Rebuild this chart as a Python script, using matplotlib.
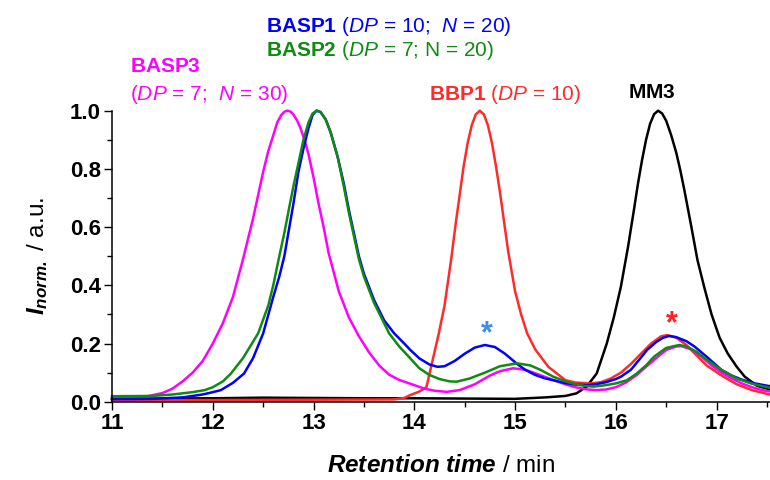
import matplotlib
matplotlib.use("Agg")
import matplotlib.pyplot as plt
from matplotlib.ticker import MultipleLocator

plt.rcParams["font.family"] = "Liberation Sans"
plt.rcParams["mathtext.fontset"] = "custom"
plt.rcParams["mathtext.rm"] = "Liberation Sans"
plt.rcParams["mathtext.it"] = "Liberation Sans:italic"
plt.rcParams["mathtext.bf"] = "Liberation Sans:bold"
plt.rcParams["mathtext.bfit"] = "Liberation Sans:italic:bold"

# ================= DATA =================
t_basp3 = [11.0, 11.3, 11.5, 11.6, 11.7, 11.8, 11.9, 12.0, 12.1, 12.2, 12.3, 12.4,
           12.45, 12.5, 12.55, 12.6, 12.64, 12.68, 12.71, 12.74, 12.77, 12.8, 12.84,
           12.87, 12.91, 12.95, 13.0, 13.05, 13.1, 13.15, 13.25, 13.35,
           13.45, 13.55, 13.65, 13.75, 13.85, 13.96, 14.1, 14.2, 14.32, 14.45, 14.6,
           14.75, 14.85, 14.98, 15.1, 15.2, 15.3, 15.4, 15.5, 15.6, 15.7, 15.8, 15.9,
           16.0, 16.1, 16.2, 16.3, 16.4, 16.5, 16.6, 16.65, 16.75, 16.85, 16.95,
           17.05, 17.15, 17.25, 17.35, 17.45, 17.55]
i_basp3 = [0.012, 0.015, 0.03, 0.045, 0.07, 0.10, 0.14, 0.20, 0.27, 0.36, 0.49, 0.63,
           0.71, 0.79, 0.86, 0.915, 0.96, 0.985, 0.996, 1.0, 0.997, 0.987, 0.964,
           0.94, 0.90, 0.85, 0.77, 0.68, 0.60, 0.51, 0.38, 0.29,
           0.225, 0.17, 0.125, 0.093, 0.075, 0.062, 0.045, 0.038, 0.034, 0.04, 0.06,
           0.09, 0.105, 0.115, 0.11, 0.098, 0.085, 0.072, 0.06, 0.05, 0.043, 0.04, 0.042,
           0.05, 0.066, 0.09, 0.12, 0.15, 0.178, 0.19, 0.191, 0.18, 0.155, 0.125,
           0.10, 0.08, 0.063, 0.05, 0.04, 0.034]

t_basp1 = [11.0, 11.4, 11.7, 11.9, 12.0, 12.08, 12.2, 12.31, 12.4, 12.5, 12.6, 12.66,
           12.71, 12.76, 12.8, 12.85, 12.9, 12.95, 12.99, 13.03, 13.07, 13.12, 13.17,
           13.24, 13.3, 13.35, 13.4, 13.45, 13.5, 13.6,
           13.7, 13.8, 13.9, 13.96, 14.05, 14.15, 14.23, 14.3, 14.4, 14.5, 14.6, 14.7,
           14.8, 14.9, 15.02, 15.1, 15.2, 15.3, 15.38, 15.5, 15.6, 15.71, 15.8, 15.9,
           16.0, 16.05, 16.15, 16.25, 16.31, 16.4, 16.47, 16.53, 16.6, 16.7, 16.78, 16.9,
           17.05, 17.15, 17.25, 17.38, 17.55]
i_basp1 = [0.009, 0.01, 0.015, 0.025, 0.033, 0.04, 0.065, 0.097, 0.15, 0.235, 0.36, 0.43,
           0.50, 0.60, 0.68, 0.79, 0.87, 0.94, 0.985, 1.0, 0.995, 0.97, 0.925,
           0.84, 0.75, 0.66, 0.58, 0.50, 0.44, 0.35,
           0.28, 0.235, 0.20, 0.178, 0.149, 0.128, 0.12, 0.122, 0.14, 0.165, 0.186, 0.195,
           0.188, 0.165, 0.13, 0.11, 0.092, 0.08, 0.074, 0.064, 0.059, 0.057, 0.06, 0.067,
           0.078, 0.086, 0.11, 0.152, 0.178, 0.205, 0.22, 0.226, 0.222, 0.208, 0.19, 0.155,
           0.109, 0.09, 0.076, 0.063, 0.052]

t_basp2 = [11.0, 11.4, 11.6, 11.8, 11.92, 12.0, 12.1, 12.18, 12.3, 12.45, 12.55, 12.6,
           12.66, 12.71, 12.76, 12.8, 12.85, 12.9, 12.95, 12.99, 13.03, 13.07, 13.12,
           13.17, 13.24, 13.3, 13.35, 13.4, 13.45, 13.5, 13.6, 13.75,
           13.85, 13.96, 14.05, 14.15, 14.25, 14.35, 14.42, 14.55, 14.7, 14.85, 15.02,
           15.15, 15.25, 15.38, 15.5, 15.6, 15.7, 15.78, 15.9, 16.0, 16.11, 16.2, 16.3,
           16.38, 16.5, 16.63, 16.7, 16.8, 16.9, 17.05, 17.2, 17.35, 17.55]
i_basp2 = [0.019, 0.02, 0.025, 0.033, 0.04, 0.05, 0.07, 0.097, 0.15, 0.235, 0.33, 0.40,
           0.50, 0.58, 0.67, 0.74, 0.82, 0.90, 0.96, 0.99, 1.0, 0.995, 0.97,
           0.925, 0.84, 0.74, 0.65, 0.57, 0.49, 0.43, 0.34, 0.235,
           0.19, 0.149, 0.115, 0.092, 0.078, 0.07, 0.069, 0.08, 0.10, 0.122, 0.132,
           0.125, 0.11, 0.086, 0.07, 0.06, 0.054, 0.052, 0.057, 0.063, 0.074, 0.095, 0.125,
           0.155, 0.185, 0.195, 0.19, 0.172, 0.145, 0.109, 0.08, 0.062, 0.046]

t_bbp1 = [11.0, 12.0, 13.0, 13.8, 13.9, 13.96, 14.05, 14.12, 14.18, 14.24, 14.3, 14.37,
          14.41, 14.45, 14.49, 14.53, 14.57, 14.61, 14.65, 14.69, 14.73, 14.77, 14.81,
          14.85, 14.89, 14.93, 15.0, 15.06, 15.12, 15.2,
          15.33, 15.5, 15.6, 15.75, 15.85, 15.95, 16.05, 16.15, 16.25, 16.35, 16.45,
          16.51, 16.6, 16.7, 16.8, 16.9, 17.05, 17.2, 17.35, 17.55]
i_bbp1 = [0.006, 0.006, 0.007, 0.008, 0.013, 0.023, 0.035, 0.05, 0.14, 0.23, 0.33, 0.50,
          0.61, 0.71, 0.81, 0.89, 0.95, 0.987, 1.0, 0.987, 0.95, 0.89, 0.81,
          0.72, 0.62, 0.52, 0.38, 0.30, 0.235, 0.18,
          0.12, 0.074, 0.066, 0.063, 0.067, 0.08, 0.10, 0.13, 0.165, 0.20, 0.225,
          0.229, 0.22, 0.195, 0.16, 0.125, 0.09, 0.06, 0.04, 0.023]

t_mm3 = [11.0, 11.5, 12.0, 12.5, 13.0, 13.5, 14.0, 14.5, 15.0, 15.3, 15.5, 15.61,
         15.71, 15.81, 15.91, 15.98, 16.05, 16.12, 16.18, 16.22, 16.26, 16.3, 16.34,
         16.38, 16.42, 16.46, 16.5, 16.55, 16.6, 16.64, 16.68, 16.75, 16.81, 16.88,
         16.95, 17.03, 17.11, 17.2, 17.28, 17.4, 17.55]
i_mm3 = [0.01, 0.011, 0.012, 0.014, 0.013, 0.012, 0.012, 0.011, 0.01, 0.015, 0.02, 0.029,
         0.052, 0.097, 0.20, 0.29, 0.395, 0.53, 0.66, 0.75, 0.83, 0.90, 0.955,
         0.988, 1.0, 0.99, 0.965, 0.915, 0.855, 0.795, 0.727, 0.60, 0.487, 0.39,
         0.30, 0.22, 0.166, 0.12, 0.086, 0.055, 0.04]

# asterisks marking the shoulder / impurity peaks
star_t = [14.72, 16.56]
star_i = [0.232, 0.266]
star_colors = ["#3a8ee6", "#ff2020"]

# ================= FIGURE =================
fig = plt.figure(figsize=(7.7, 4.8), dpi=100)
ax = fig.add_axes([0.1455, 0.163, 0.8545, 0.6065])

lw = 1.8
ax.plot(t_mm3, i_mm3, color="black", lw=lw, clip_on=False)
ax.plot(t_bbp1, i_bbp1, color="#ff2a2a", lw=lw, clip_on=False)
ax.plot(t_basp3, i_basp3, color="#ff00ff", lw=lw, clip_on=False)
ax.plot(t_basp1, i_basp1, color="#0000ff", lw=lw, clip_on=False)
ax.plot(t_basp2, i_basp2, color="#108a10", lw=lw, clip_on=False)

for x, y, c in zip(star_t, star_i, star_colors):
    ax.text(x, y, "*", color=c, fontsize=22, fontweight="bold",
            ha="center", va="center")

ax.set_xlim(11, 17.53)
ax.set_ylim(0, 1.0)

for side in ["top", "right"]:
    ax.spines[side].set_visible(False)
for side in ["left", "bottom"]:
    ax.spines[side].set_linewidth(1.1)

ax.xaxis.set_major_locator(MultipleLocator(1))
ax.xaxis.set_minor_locator(MultipleLocator(0.5))
ax.yaxis.set_minor_locator(MultipleLocator(0.1))
ax.set_yticks([0, 0.2, 0.4, 0.6, 0.8, 1.0])
ax.set_yticklabels(["0.0", "0.2", "0.4", "0.6", "0.8", "1.0"])
ax.tick_params(which="major", direction="out", length=6, width=1.0,
               labelsize=16, pad=2)
ax.tick_params(which="minor", direction="out", length=3.5, width=1.0)
for lab in ax.get_xticklabels() + ax.get_yticklabels():
    lab.set_fontweight("bold")

ax.set_xlabel(r"$\mathbfit{Retention\ time}$ / min", fontsize=17.5, labelpad=15)
ax.set_ylabel(r"$\mathbfit{I_{norm.}}$ / a.u.", fontsize=17.5, labelpad=14)

# ================= LABELS ABOVE THE PEAKS =================
def ftext(px, py, s, color, ha="left"):
    fig.text(px / 770, 1 - py / 480, s, color=color, fontsize=15,
             ha=ha, va="center")

ftext(266, 26, r"$\mathbf{BASP1}$ ($\mathit{DP}$ = 10;  $\mathit{N}$ = 20)", "#0000ff")
ftext(266, 51, r"$\mathbf{BASP2}$ ($\mathit{DP}$ = 7; N = 20)", "#108a10")
ftext(130, 67, r"$\mathbf{BASP3}$", "#ff00ff")
ftext(130, 94, r"($\mathit{DP}$ = 7;  $\mathit{N}$ = 30)", "#ff00ff")
ftext(429, 94, r"$\mathbf{BBP1}$ ($\mathit{DP}$ = 10)", "#ff2a2a")
ftext(652, 92, r"$\mathbf{MM3}$", "black", ha="center")

fig.savefig("out.png", dpi=100)
